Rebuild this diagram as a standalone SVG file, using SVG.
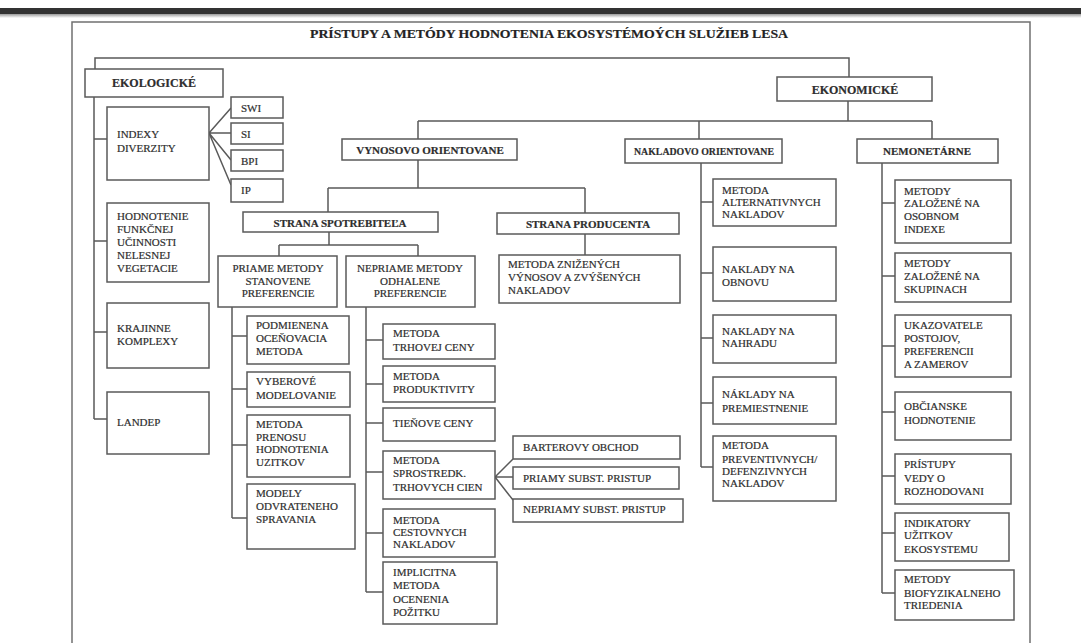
<svg xmlns="http://www.w3.org/2000/svg" width="1081" height="643" viewBox="0 0 1081 643">
<defs>
<linearGradient id="shade" x1="0" y1="0" x2="0" y2="1">
<stop offset="0" stop-color="#9a9a9a"/>
<stop offset="1" stop-color="#ffffff"/>
</linearGradient>
</defs>
<style>
.box{fill:#fff;stroke:#5a5a5a;stroke-width:1.5}
.ln{fill:none;stroke:#5a5a5a;stroke-width:1.5}
.frame{fill:none;stroke:#707070;stroke-width:1.5}
text{font-family:"Liberation Serif","Times New Roman",serif;font-size:11px;fill:#2e2e2e;stroke:#2e2e2e;stroke-width:0.2}
.b{font-weight:bold}
.m{text-anchor:middle}
.h{font-size:12px}
.title{font-size:13px;font-weight:bold;fill:#222}
</style>
<rect x="0" y="0" width="1081" height="643" fill="#fff"/>
<rect x="0" y="8" width="1081" height="6" fill="#333"/>
<rect x="0" y="14" width="1081" height="4" fill="url(#shade)"/>
<path class="frame" d="M72,660 V22 H1030 V660"/>
<text class="title m" x="549" y="38" textLength="478" lengthAdjust="spacingAndGlyphs">PRÍSTUPY A METÓDY HODNOTENIA EKOSYSTÉMOÝCH SLUŽIEB LESA</text>

<g id="connectors">
<path class="ln" d="M95,69 V58 H849 V77"/>
<path class="ln" d="M94,97 V419 M94,139 H107 M94,241 H107 M94,332 H107 M94,419 H107"/>
<path class="ln" d="M209,133 L231,108 M209,133 L231,133 M209,133 L231,160 M209,133 L231,185"/>
<path class="ln" d="M848,101 V121 M418,121 H932 M418,121 V139 M699,121 V139 M932,121 V139"/>
<path class="ln" d="M418,160 V188 M328,188 H585 M328,188 V212 M585,188 V213"/>
<path class="ln" d="M329,232 V245 M279,245 H418 M279,245 V256 M418,245 V256"/>
<path class="ln" d="M585,234 V255"/>
<path class="ln" d="M232,307 V518 M232,336 H247 M232,389 H247 M232,445 H247 M232,518 H247"/>
<path class="ln" d="M366,307 V592 M366,340 H383 M366,384 H383 M366,423 H383 M366,472 H383 M366,533 H383 M366,592 H383"/>
<path class="ln" d="M495,477 L513,459 M495,477 L513,477 M495,477 L513,500"/>
<path class="ln" d="M701,163 V467 M701,202 H713 M701,273 H713 M701,338 H713 M701,403 H713 M701,467 H713"/>
<path class="ln" d="M882,163 V593 M882,203 H895 M882,276 H895 M882,346 H895 M882,412 H895 M882,476 H895 M882,533 H895 M882,593 H895"/>
</g>

<g id="ekologicke"><rect class="box" x="85" y="69" width="138" height="28"/><text class="b m h" x="154" y="87">EKOLOGICKÉ</text></g>
<g id="ekonomicke"><rect class="box" x="777" y="77" width="155" height="24"/><text class="b m h" x="855" y="94">EKONOMICKÉ</text></g>

<g id="indexy"><rect class="box" x="107" y="107" width="102" height="73"/><text x="117" y="138">INDEXY<tspan x="117" y="152">DIVERZITY</tspan></text></g>
<g id="swi"><rect class="box" x="231" y="97" width="52" height="21"/><text x="241" y="112">SWI</text></g>
<g id="si"><rect class="box" x="231" y="123" width="52" height="21"/><text x="241" y="138">SI</text></g>
<g id="bpi"><rect class="box" x="231" y="150" width="52" height="21"/><text x="241" y="165">BPI</text></g>
<g id="ip"><rect class="box" x="231" y="179" width="52" height="23"/><text x="241" y="194">IP</text></g>
<g id="hodnotenie"><rect class="box" x="107" y="203" width="102" height="79"/><text x="117" y="220">HODNOTENIE<tspan x="117" y="233">FUNKČNEJ</tspan><tspan x="117" y="246">UČINNOSTI</tspan><tspan x="117" y="259">NELESNEJ</tspan><tspan x="117" y="272">VEGETACIE</tspan></text></g>
<g id="krajinne"><rect class="box" x="107" y="303" width="102" height="65"/><text x="117" y="332">KRAJINNE<tspan x="117" y="345">KOMPLEXY</tspan></text></g>
<g id="landep"><rect class="box" x="107" y="392" width="102" height="62"/><text x="117" y="426">LANDEP</text></g>

<g id="vynosovo"><rect class="box" x="342" y="139" width="175" height="21"/><text class="b m" x="430" y="154">VYNOSOVO ORIENTOVANE</text></g>
<g id="nakladovo"><rect class="box" x="625" y="139" width="157" height="24"/><text class="b m" x="704" y="155" textLength="140" lengthAdjust="spacingAndGlyphs">NAKLADOVO ORIENTOVANE</text></g>
<g id="nemonetarne"><rect class="box" x="857" y="139" width="141" height="24"/><text class="b m" x="927" y="155">NEMONETÁRNE</text></g>

<g id="spotrebitela"><rect class="box" x="243" y="212" width="195" height="20"/><text class="b m" x="340" y="227">STRANA SPOTREBITEĽA</text></g>
<g id="producenta"><rect class="box" x="497" y="213" width="182" height="21"/><text class="b m" x="588" y="228">STRANA PRODUCENTA</text></g>

<g id="priame"><rect class="box" x="218" y="256" width="119" height="51"/><text class="m" x="278" y="272">PRIAME METODY<tspan x="278" y="285">STANOVENE</tspan><tspan x="278" y="297">PREFERENCIE</tspan></text></g>
<g id="nepriame"><rect class="box" x="346" y="256" width="129" height="51"/><text class="m" x="410" y="272">NEPRIAME METODY<tspan x="410" y="285">ODHALENE</tspan><tspan x="410" y="297">PREFERENCIE</tspan></text></g>
<g id="znizenych"><rect class="box" x="499" y="255" width="181" height="48"/><text x="508" y="268">METODA ZNIŽENÝCH<tspan x="508" y="281">VÝNOSOV A ZVÝŠENÝCH</tspan><tspan x="508" y="294">NAKLADOV</tspan></text></g>

<g id="podmienena"><rect class="box" x="247" y="316" width="102" height="48"/><text x="256" y="329">PODMIENENA<tspan x="256" y="342">OCEŇOVACIA</tspan><tspan x="256" y="355">METODA</tspan></text></g>
<g id="vyberove"><rect class="box" x="247" y="372" width="103" height="35"/><text x="256" y="385">VYBEROVÉ<tspan x="256" y="399">MODELOVANIE</tspan></text></g>
<g id="prenosu"><rect class="box" x="247" y="415" width="103" height="62"/><text x="256" y="428">METODA<tspan x="256" y="441">PRENOSU</tspan><tspan x="256" y="453">HODNOTENIA</tspan><tspan x="256" y="466">UZITKOV</tspan></text></g>
<g id="modely"><rect class="box" x="247" y="484" width="108" height="65"/><text x="256" y="497">MODELY<tspan x="256" y="510">ODVRATENEHO</tspan><tspan x="256" y="523">SPRAVANIA</tspan></text></g>

<g id="trhovej"><rect class="box" x="383" y="324" width="112" height="35"/><text x="393" y="337">METODA<tspan x="393" y="351">TRHOVEJ CENY</tspan></text></g>
<g id="produktivity"><rect class="box" x="383" y="366" width="112" height="36"/><text x="393" y="380">METODA<tspan x="393" y="393">PRODUKTIVITY</tspan></text></g>
<g id="tienove"><rect class="box" x="383" y="408" width="112" height="33"/><text x="393" y="427">TIEŇOVE CENY</text></g>
<g id="sprostredk"><rect class="box" x="383" y="451" width="112" height="48"/><text x="393" y="464">METODA<tspan x="393" y="477">SPROSTREDK.</tspan><tspan x="393" y="491">TRHOVYCH CIEN</tspan></text></g>
<g id="cestovnych"><rect class="box" x="383" y="509" width="112" height="48"/><text x="393" y="524">METODA<tspan x="393" y="536">CESTOVNYCH</tspan><tspan x="393" y="548">NAKLADOV</tspan></text></g>
<g id="implicitna"><rect class="box" x="383" y="562" width="114" height="62"/><text x="393" y="576">IMPLICITNA<tspan x="393" y="589">METODA</tspan><tspan x="393" y="603">OCENENIA</tspan><tspan x="393" y="616">POŽITKU</tspan></text></g>

<g id="barterovy"><rect class="box" x="513" y="436" width="167" height="23"/><text x="523" y="451">BARTEROVY OBCHOD</text></g>
<g id="priamy"><rect class="box" x="513" y="467" width="166" height="22"/><text x="523" y="482">PRIAMY SUBST. PRISTUP</text></g>
<g id="nepriamy"><rect class="box" x="513" y="499" width="170" height="23"/><text x="523" y="513">NEPRIAMY SUBST. PRISTUP</text></g>

<g id="alternativnych"><rect class="box" x="713" y="179" width="123" height="47"/><text x="722" y="194">METODA<tspan x="722" y="206">ALTERNATIVNYCH</tspan><tspan x="722" y="218">NAKLADOV</tspan></text></g>
<g id="obnovu"><rect class="box" x="713" y="247" width="123" height="54"/><text x="722" y="273">NAKLADY NA<tspan x="722" y="286">OBNOVU</tspan></text></g>
<g id="nahradu"><rect class="box" x="713" y="315" width="123" height="48"/><text x="722" y="335">NAKLADY NA<tspan x="722" y="347">NAHRADU</tspan></text></g>
<g id="premiestnenie"><rect class="box" x="713" y="377" width="123" height="47"/><text x="722" y="398">NÁKLADY NA<tspan x="722" y="412">PREMIESTNENIE</tspan></text></g>
<g id="preventivnych"><rect class="box" x="713" y="436" width="123" height="65"/><text x="722" y="449">METODA<tspan x="722" y="463">PREVENTIVNYCH/</tspan><tspan x="722" y="475">DEFENZIVNYCH</tspan><tspan x="722" y="487">NAKLADOV</tspan></text></g>

<g id="osobnom"><rect class="box" x="895" y="180" width="116" height="63"/><text x="904" y="195">METODY<tspan x="904" y="207">ZALOŽENÉ NA</tspan><tspan x="904" y="220">OSOBNOM</tspan><tspan x="904" y="233">INDEXE</tspan></text></g>
<g id="skupinach"><rect class="box" x="895" y="253" width="116" height="49"/><text x="904" y="267">METODY<tspan x="904" y="280">ZALOŽENÉ NA</tspan><tspan x="904" y="293">SKUPINACH</tspan></text></g>
<g id="ukazovatele"><rect class="box" x="895" y="315" width="116" height="62"/><text x="904" y="329">UKAZOVATELE<tspan x="904" y="342">POSTOJOV,</tspan><tspan x="904" y="355">PREFERENCII</tspan><tspan x="904" y="368">A ZAMEROV</tspan></text></g>
<g id="obcianske"><rect class="box" x="895" y="392" width="116" height="48"/><text x="904" y="410">OBČIANSKE<tspan x="904" y="424">HODNOTENIE</tspan></text></g>
<g id="pristupy"><rect class="box" x="895" y="454" width="116" height="50"/><text x="904" y="468">PRÍSTUPY<tspan x="904" y="482">VEDY O</tspan><tspan x="904" y="495">ROZHODOVANI</tspan></text></g>
<g id="indikatory"><rect class="box" x="895" y="513" width="114" height="48"/><text x="904" y="527">INDIKATORY<tspan x="904" y="539">UŽITKOV</tspan><tspan x="904" y="553">EKOSYSTEMU</tspan></text></g>
<g id="biofyzikalneho"><rect class="box" x="895" y="570" width="119" height="50"/><text x="904" y="583">METODY<tspan x="904" y="597">BIOFYZIKALNEHO</tspan><tspan x="904" y="609">TRIEDENIA</tspan></text></g>
</svg>
